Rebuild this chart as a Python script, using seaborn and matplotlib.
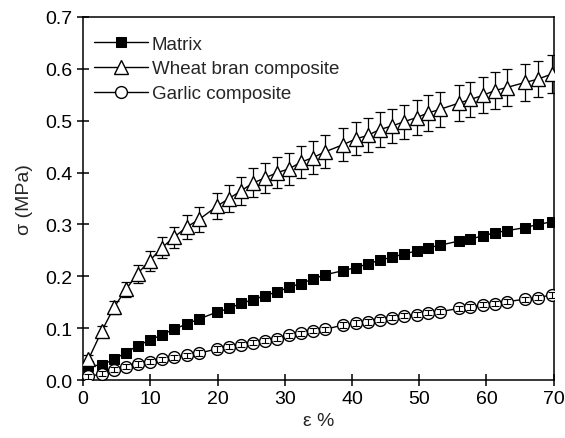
import numpy as np
import pandas as pd
import matplotlib
matplotlib.use('Agg')
import matplotlib.pyplot as plt
import seaborn as sns

# strain values (%) shared by all three series
strain = [0.8, 2.8, 4.6, 6.4, 8.1, 9.9, 11.7, 13.5, 15.4, 17.3, 19.9, 21.7, 23.5,
          25.3, 27.1, 28.9, 30.6, 32.4, 34.2, 36.0, 38.7, 40.6, 42.4, 44.1, 46.0,
          47.7, 49.6, 51.3, 53.1, 55.9, 57.6, 59.5, 61.2, 63.0, 65.8, 67.6, 69.7]

matrix = [0.027, 0.029, 0.040, 0.053, 0.066, 0.077, 0.087, 0.098, 0.108, 0.118,
          0.131, 0.138, 0.148, 0.155, 0.163, 0.170, 0.179, 0.186, 0.195, 0.203,
          0.211, 0.217, 0.224, 0.231, 0.237, 0.243, 0.249, 0.255, 0.260, 0.268,
          0.272, 0.278, 0.284, 0.288, 0.294, 0.300, 0.305]

wheat = [0.040, 0.095, 0.140, 0.175, 0.205, 0.230, 0.255, 0.275, 0.295, 0.310,
         0.335, 0.350, 0.365, 0.380, 0.390, 0.400, 0.407, 0.420, 0.429, 0.440,
         0.454, 0.465, 0.472, 0.483, 0.490, 0.498, 0.506, 0.515, 0.522, 0.534,
         0.541, 0.549, 0.558, 0.564, 0.574, 0.580, 0.590]
wheat_err = [0.008, 0.010, 0.013, 0.015, 0.017, 0.019, 0.020, 0.021, 0.023, 0.024,
             0.025, 0.026, 0.027, 0.028, 0.029, 0.030, 0.030, 0.031, 0.031, 0.032,
             0.032, 0.032, 0.033, 0.033, 0.033, 0.033, 0.034, 0.034, 0.034, 0.034,
             0.034, 0.035, 0.035, 0.035, 0.035, 0.035, 0.036]

garlic = [0.007, 0.012, 0.020, 0.026, 0.031, 0.035, 0.040, 0.044, 0.048, 0.052,
          0.060, 0.064, 0.068, 0.072, 0.076, 0.080, 0.086, 0.090, 0.095, 0.098,
          0.106, 0.110, 0.112, 0.116, 0.120, 0.124, 0.126, 0.130, 0.132, 0.138,
          0.141, 0.145, 0.147, 0.151, 0.156, 0.159, 0.164]
garlic_err = [0.005] * len(strain)

sns.set_style('ticks')
plt.rcParams['font.family'] = ['Liberation Sans', 'DejaVu Sans']

fig = plt.figure(figsize=(5.65, 4.39), dpi=100)
ax = fig.add_axes([0.147, 0.132, 0.833, 0.827])

df = pd.DataFrame({'strain': strain, 'Matrix': matrix,
                   'Wheat bran composite': wheat, 'Garlic composite': garlic})

# wheat bran error bars beneath the markers
ax.errorbar(strain, wheat, yerr=wheat_err, fmt='none', ecolor='black',
            elinewidth=0.9, capsize=3.5, capthick=0.9, zorder=2)

sns.lineplot(data=df, x='strain', y='Matrix', ax=ax, color='black', lw=1,
             marker='s', markersize=7.5, markerfacecolor='black',
             markeredgecolor='black', label='Matrix', zorder=3)
sns.lineplot(data=df, x='strain', y='Wheat bran composite', ax=ax, color='black',
             lw=1, marker='^', markersize=10.5, markerfacecolor='white',
             markeredgecolor='black', markeredgewidth=1,
             label='Wheat bran composite', zorder=3)
sns.lineplot(data=df, x='strain', y='Garlic composite', ax=ax, color='black',
             lw=1, marker='o', markersize=8.5, markerfacecolor='white',
             markeredgecolor='black', markeredgewidth=1,
             label='Garlic composite', zorder=3)

# garlic error bars sit inside the circles
ax.errorbar(strain, garlic, yerr=garlic_err, fmt='none', ecolor='black',
            elinewidth=0.8, capsize=2.8, capthick=0.8, zorder=4)

ax.set_xlim(0, 70)
ax.set_ylim(0, 0.7)
ax.set_xticks(np.arange(0, 71, 10))
ax.set_yticks(np.arange(0, 0.71, 0.1))
ax.set_yticklabels([f'{v:.1f}' for v in np.arange(0, 0.71, 0.1)])
ax.tick_params(direction='inout', length=9, width=1.1, labelsize=14,
               colors='black', pad=3)
for s in ax.spines.values():
    s.set_linewidth(1.1)
    s.set_color('black')

ax.set_xlabel('ε %', fontsize=14, labelpad=3)
ax.set_ylabel('σ (MPa)', fontsize=14, labelpad=9)

ax.legend(loc='upper left', frameon=False, fontsize=13.5, handlelength=2.9,
          handletextpad=0.2, labelspacing=0.4, borderaxespad=0.6,
          bbox_to_anchor=(-0.017, 1.0))

fig.savefig('out.png', dpi=100)
